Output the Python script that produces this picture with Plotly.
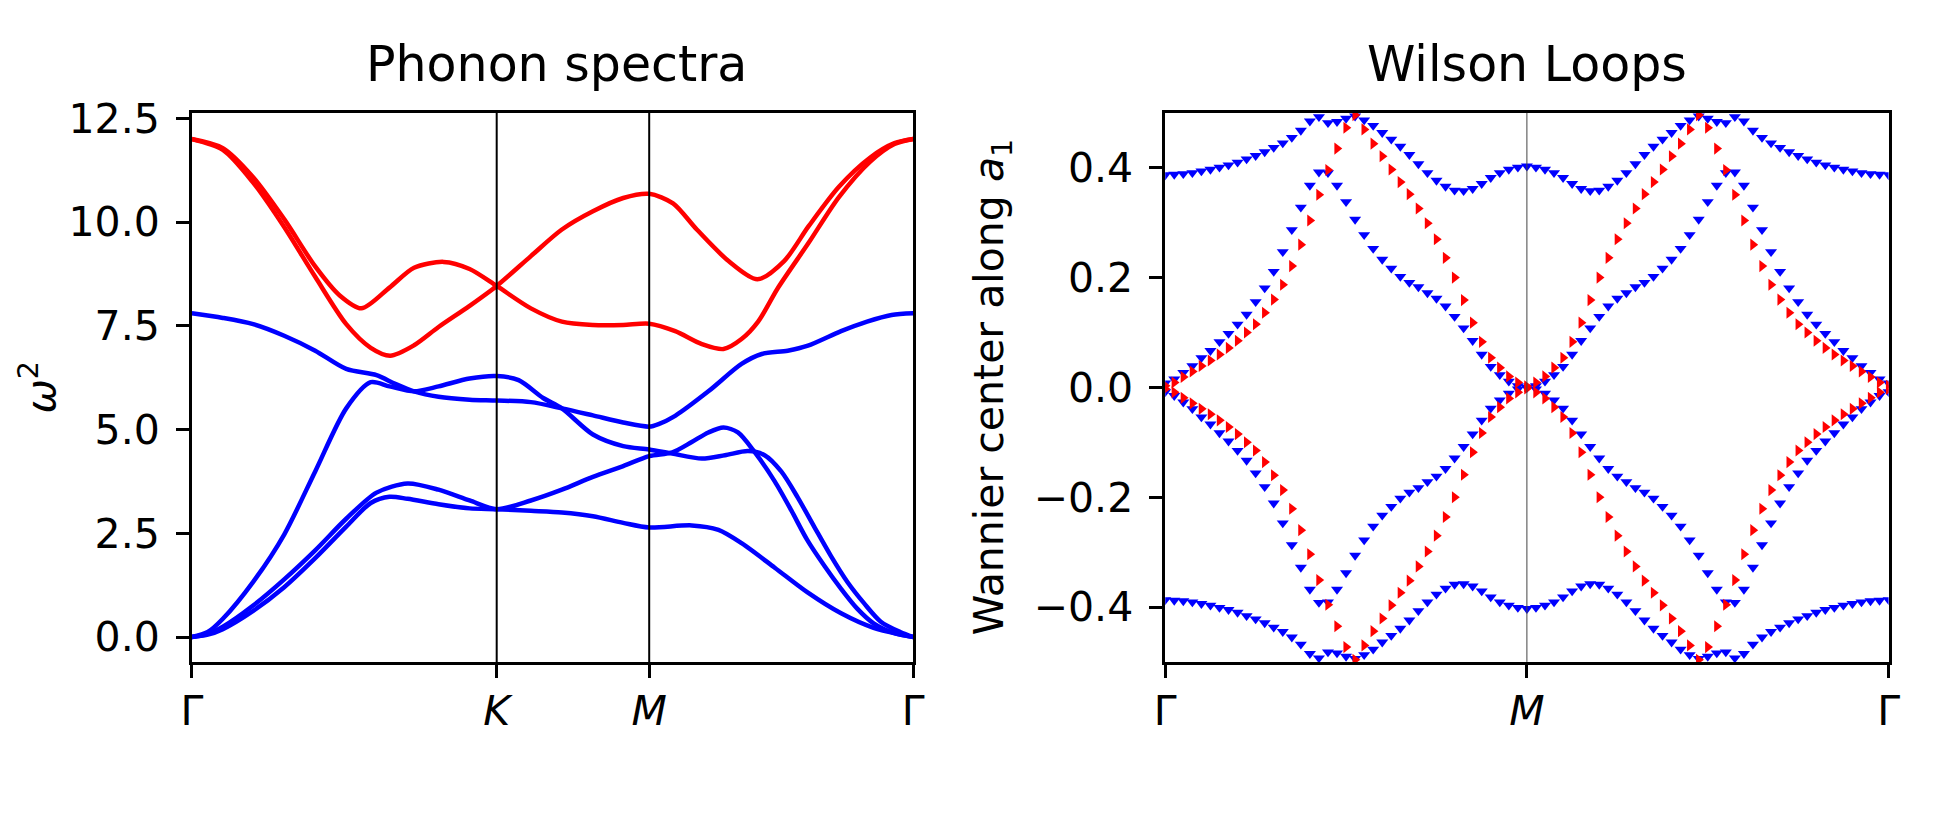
import plotly.graph_objects as go

#%% data: phonon bands (k along G-K-M-G, fraction of path) and omega^2

kpath_ticks = [0.0, 0.4226, 0.634, 1.0]
kpath_labels = ["Γ", "<i>K</i>", "<i>M</i>", "Γ"]

band1_k = [0, 0.021, 0.043, 0.085, 0.128, 0.171, 0.214, 0.248, 0.274, 0.299, 0.342, 0.385, 0.4226,
           0.47, 0.513, 0.556, 0.598, 0.634, 0.693, 0.73, 0.762, 0.808, 0.853, 0.90, 0.945, 0.982, 1.0]
band1_w = [0, 0.05, 0.19, 0.63, 1.20, 1.90, 2.66, 3.23, 3.38, 3.33, 3.20, 3.10, 3.08,
           3.04, 3.00, 2.91, 2.75, 2.64, 2.69, 2.58, 2.26, 1.67, 1.08, 0.57, 0.22, 0.06, 0]

band2_k = [0, 0.021, 0.043, 0.085, 0.128, 0.171, 0.214, 0.256, 0.299, 0.342, 0.385, 0.4226,
           0.47, 0.513, 0.556, 0.598, 0.634, 0.666, 0.693, 0.716, 0.737, 0.757, 0.78, 0.808,
           0.831, 0.853, 0.877, 0.90, 0.922, 0.945, 0.973, 1.0]
band2_w = [0, 0.07, 0.25, 0.76, 1.39, 2.09, 2.85, 3.48, 3.70, 3.55, 3.29, 3.08,
           3.29, 3.55, 3.86, 4.12, 4.36, 4.45, 4.70, 4.93, 5.05, 4.93, 4.46, 3.75,
           3.05, 2.34, 1.71, 1.16, 0.69, 0.33, 0.10, 0]

band3_k = [0, 0.022, 0.043, 0.085, 0.128, 0.171, 0.214, 0.248, 0.274, 0.308, 0.342, 0.385, 0.4226,
           0.453, 0.487, 0.513, 0.556, 0.598, 0.634, 0.666, 0.707, 0.739, 0.771, 0.794,
           0.817, 0.840, 0.863, 0.886, 0.909, 0.932, 0.955, 0.982, 1.0]
band3_w = [0, 0.12, 0.44, 1.33, 2.47, 3.99, 5.51, 6.14, 6.04, 5.92, 6.04, 6.23, 6.29,
           6.19, 5.76, 5.51, 4.88, 4.60, 4.52, 4.42, 4.30, 4.38, 4.48, 4.38,
           3.99, 3.36, 2.65, 1.95, 1.32, 0.81, 0.37, 0.12, 0]

band4_k = [0, 0.043, 0.085, 0.128, 0.171, 0.214, 0.256, 0.282, 0.308, 0.342, 0.385, 0.4226,
           0.47, 0.513, 0.556, 0.598, 0.634, 0.647, 0.670, 0.716, 0.762, 0.79, 0.826, 0.854,
           0.90, 0.936, 0.97, 1.0]
band4_w = [7.80, 7.69, 7.54, 7.26, 6.90, 6.46, 6.31, 6.10, 5.92, 5.79, 5.72, 5.70,
           5.66, 5.51, 5.34, 5.17, 5.07, 5.13, 5.33, 5.92, 6.58, 6.82, 6.90, 7.02,
           7.37, 7.60, 7.76, 7.80]

band5_k = [0, 0.043, 0.085, 0.128, 0.171, 0.205, 0.235, 0.274, 0.308, 0.349, 0.385, 0.4226,
           0.47, 0.513, 0.556, 0.598, 0.634, 0.67, 0.707, 0.737, 0.762, 0.785, 0.812,
           0.855, 0.897, 0.94, 0.974, 1.0]
band5_w = [12.0, 11.78, 11.08, 10.07, 8.93, 8.23, 7.92, 8.42, 8.90, 9.04, 8.87, 8.46,
           7.92, 7.60, 7.52, 7.52, 7.55, 7.37, 7.06, 6.94, 7.18, 7.60, 8.40,
           9.50, 10.60, 11.45, 11.88, 12.0]

band6_k = [0, 0.043, 0.085, 0.128, 0.171, 0.214, 0.248, 0.275, 0.308, 0.342, 0.385, 0.4226,
           0.47, 0.513, 0.556, 0.598, 0.634, 0.667, 0.70, 0.744, 0.784, 0.821, 0.855,
           0.897, 0.94, 0.974, 1.0]
band6_w = [12.0, 11.74, 10.95, 9.88, 8.68, 7.54, 6.97, 6.78, 7.03, 7.47, 7.98, 8.46,
           9.18, 9.82, 10.26, 10.58, 10.68, 10.45, 9.82, 9.06, 8.62, 9.06, 9.90,
           10.85, 11.55, 11.90, 12.0]

#%% data: Wilson loop Wannier centres, 81 k-points G-M-G

wl_k = list(range(81))
wl_ticks = [0, 40, 80]
wl_labels = ["Γ", "<i>M</i>", "Γ"]

wl_blue_1 = [0.387, 0.388, 0.389, 0.391, 0.394, 0.397, 0.401, 0.405, 0.410, 0.416,
             0.422, 0.429, 0.437, 0.445, 0.455, 0.468, 0.485, 0.493, 0.482, 0.484,
             0.490, 0.494, 0.487, 0.477, 0.464, 0.452, 0.439, 0.424, 0.407, 0.391,
             0.377, 0.366, 0.359, 0.358, 0.362, 0.371, 0.382, 0.391, 0.397, 0.401,
             0.403,
             0.401, 0.397, 0.391, 0.382, 0.371, 0.362, 0.358, 0.359, 0.366, 0.377,
             0.391, 0.407, 0.424, 0.439, 0.452, 0.464, 0.477, 0.487, 0.494, 0.490,
             0.484, 0.482, 0.493, 0.485, 0.468, 0.455, 0.445, 0.437, 0.429, 0.422,
             0.416, 0.410, 0.405, 0.401, 0.397, 0.394, 0.391, 0.389, 0.388, 0.387]
wl_blue_2 = [0.008, 0.015, 0.027, 0.039, 0.054, 0.067, 0.083, 0.098, 0.115, 0.133,
             0.156, 0.181, 0.211, 0.247, 0.287, 0.328, 0.368, 0.392, 0.391, 0.368,
             0.338, 0.306, 0.278, 0.253, 0.233, 0.217, 0.202, 0.191, 0.183, 0.172,
             0.162, 0.148, 0.129, 0.108, 0.085, 0.060, 0.038, 0.023, 0.011, 0.003,
             0.000,
             0.003, 0.011, 0.023, 0.038, 0.060, 0.085, 0.108, 0.129, 0.148, 0.162,
             0.172, 0.183, 0.191, 0.202, 0.217, 0.233, 0.253, 0.278, 0.306, 0.338,
             0.368, 0.391, 0.392, 0.368, 0.328, 0.287, 0.247, 0.211, 0.181, 0.156,
             0.133, 0.115, 0.098, 0.083, 0.067, 0.054, 0.039, 0.027, 0.015, 0.008]
wl_blue_3 = [-0.008, -0.015, -0.027, -0.039, -0.054, -0.067, -0.083, -0.098, -0.115, -0.133,
             -0.156, -0.181, -0.211, -0.247, -0.287, -0.328, -0.368, -0.392, -0.391, -0.368,
             -0.338, -0.306, -0.278, -0.253, -0.233, -0.217, -0.202, -0.191, -0.183, -0.172,
             -0.162, -0.148, -0.129, -0.108, -0.085, -0.060, -0.038, -0.023, -0.011, -0.003,
             -0.000,
             -0.003, -0.011, -0.023, -0.038, -0.060, -0.085, -0.108, -0.129, -0.148, -0.162,
             -0.172, -0.183, -0.191, -0.202, -0.217, -0.233, -0.253, -0.278, -0.306, -0.338,
             -0.368, -0.391, -0.392, -0.368, -0.328, -0.287, -0.247, -0.211, -0.181, -0.156,
             -0.133, -0.115, -0.098, -0.083, -0.067, -0.054, -0.039, -0.027, -0.015, -0.008]
wl_blue_4 = [-0.387, -0.388, -0.389, -0.391, -0.394, -0.397, -0.401, -0.405, -0.410, -0.416,
             -0.422, -0.429, -0.437, -0.445, -0.455, -0.468, -0.485, -0.493, -0.482, -0.484,
             -0.490, -0.494, -0.487, -0.477, -0.464, -0.452, -0.439, -0.424, -0.407, -0.391,
             -0.377, -0.366, -0.359, -0.358, -0.362, -0.371, -0.382, -0.391, -0.397, -0.401,
             -0.403,
             -0.401, -0.397, -0.391, -0.382, -0.371, -0.362, -0.358, -0.359, -0.366, -0.377,
             -0.391, -0.407, -0.424, -0.439, -0.452, -0.464, -0.477, -0.487, -0.494, -0.490,
             -0.484, -0.482, -0.493, -0.485, -0.468, -0.455, -0.445, -0.437, -0.429, -0.422,
             -0.416, -0.410, -0.405, -0.401, -0.397, -0.394, -0.391, -0.389, -0.388, -0.387]
wl_red_1 = [0.003, 0.009, 0.019, 0.029, 0.039, 0.049, 0.060, 0.072, 0.085, 0.100,
            0.115, 0.136, 0.160, 0.187, 0.221, 0.260, 0.304, 0.351, 0.396, 0.435,
            0.473, 0.496, 0.470, 0.444, 0.421, 0.397, 0.374, 0.352, 0.326, 0.299,
            0.270, 0.236, 0.200, 0.159, 0.118, 0.083, 0.054, 0.036, 0.020, 0.009,
            0.002,
            0.009, 0.020, 0.036, 0.054, 0.083, 0.118, 0.159, 0.200, 0.236, 0.270,
            0.299, 0.326, 0.352, 0.374, 0.397, 0.421, 0.444, 0.470, 0.496, 0.473,
            0.435, 0.396, 0.351, 0.304, 0.260, 0.221, 0.187, 0.160, 0.136, 0.115,
            0.100, 0.085, 0.072, 0.060, 0.049, 0.039, 0.029, 0.019, 0.009, 0.003]
wl_red_2 = [-0.003, -0.009, -0.019, -0.029, -0.039, -0.049, -0.060, -0.072, -0.085, -0.100,
            -0.115, -0.136, -0.160, -0.187, -0.221, -0.260, -0.304, -0.351, -0.396, -0.435,
            -0.473, -0.496, -0.470, -0.444, -0.421, -0.397, -0.374, -0.352, -0.326, -0.299,
            -0.270, -0.236, -0.200, -0.159, -0.118, -0.083, -0.054, -0.036, -0.020, -0.009,
            -0.002,
            -0.009, -0.020, -0.036, -0.054, -0.083, -0.118, -0.159, -0.200, -0.236, -0.270,
            -0.299, -0.326, -0.352, -0.374, -0.397, -0.421, -0.444, -0.470, -0.496, -0.473,
            -0.435, -0.396, -0.351, -0.304, -0.260, -0.221, -0.187, -0.160, -0.136, -0.115,
            -0.100, -0.085, -0.072, -0.060, -0.049, -0.039, -0.029, -0.019, -0.009, -0.003]

#%% figure

W, H = 1950, 840
FONT = "DejaVu Sans"

def px_x(p):
    return p / W

def px_y(p):
    return 1 - p / H

fig = go.Figure()

phonon = [(band1_k, band1_w, "blue"), (band2_k, band2_w, "blue"),
          (band3_k, band3_w, "blue"), (band4_k, band4_w, "blue"),
          (band5_k, band5_w, "red"), (band6_k, band6_w, "red")]
for k, w, col in phonon:
    fig.add_trace(go.Scatter(x=k, y=w, mode="lines", xaxis="x", yaxis="y",
                             line=dict(color=col, width=4.5, shape="spline", smoothing=0.8),
                             showlegend=False, hoverinfo="skip"))

for vals, col, sym in [(wl_blue_1, "blue", "triangle-down"), (wl_blue_2, "blue", "triangle-down"),
                       (wl_blue_3, "blue", "triangle-down"), (wl_blue_4, "blue", "triangle-down"),
                       (wl_red_1, "red", "triangle-right"), (wl_red_2, "red", "triangle-right")]:
    fig.add_trace(go.Scatter(x=wl_k, y=vals, mode="markers", xaxis="x2", yaxis="y2",
                             marker=dict(color=col, symbol=sym, size=10.5, line_width=0),
                             cliponaxis=True, showlegend=False, hoverinfo="skip"))

# high-symmetry lines
for kx in kpath_ticks[1:3]:
    fig.add_shape(type="line", xref="x", yref="y domain", x0=kx, x1=kx, y0=0, y1=1,
                  line=dict(color="black", width=2))
fig.add_shape(type="line", xref="x2", yref="y2 domain", x0=wl_ticks[1], x1=wl_ticks[1], y0=0, y1=1,
              line=dict(color="#444444", width=1))

axis_common = dict(showline=True, mirror=True, linecolor="black", linewidth=2.6,
                   ticks="outside", ticklen=13, tickwidth=2.6, tickcolor="black",
                   showgrid=False, zeroline=False,
                   tickfont=dict(family=FONT, size=41, color="black"))

ydom = [px_y(658), px_y(97)]
fig.update_layout(
    width=W, height=H, autosize=False,
    margin=dict(l=0, r=0, t=0, b=0),
    paper_bgcolor="white", plot_bgcolor="white",
    xaxis=dict(domain=[px_x(183), px_x(913)], range=[0, 1],
               tickvals=kpath_ticks, ticktext=kpath_labels, ticklabelstandoff=-2, **axis_common),
    yaxis=dict(domain=ydom, range=[-0.6, 12.63], tickvals=[0, 2.5, 5, 7.5, 10, 12.5],
               tickformat=".1f", ticklabelstandoff=8, **axis_common),
    xaxis2=dict(domain=[px_x(1168), px_x(1900)], range=[0, 80], anchor="y2",
                tickvals=wl_ticks, ticktext=wl_labels, ticklabelstandoff=-2, **axis_common),
    yaxis2=dict(domain=ydom, range=[-0.5, 0.5], anchor="x2",
                tickvals=[-0.4, -0.2, 0, 0.2, 0.4], tickformat=".1f",
                ticklabelstandoff=8, **axis_common),
)

ann_font = dict(family=FONT, size=41, color="black")
fig.add_annotation(text="Phonon spectra", xref="paper", yref="paper",
                   x=px_x(552), y=px_y(48), xanchor="center", yanchor="middle",
                   showarrow=False, font=dict(family=FONT, size=49, color="black"))
fig.add_annotation(text="Wilson Loops", xref="paper", yref="paper",
                   x=px_x(1534), y=px_y(48), xanchor="center", yanchor="middle",
                   showarrow=False, font=dict(family=FONT, size=49, color="black"))
fig.add_annotation(text="<i>ω</i><sup>2</sup>", xref="paper", yref="paper",
                   x=px_x(27), y=px_y(377), xanchor="center", yanchor="middle",
                   textangle=-90, showarrow=False, font=ann_font)
fig.add_annotation(text="Wannier center along <i>a</i><sub>1</sub>", xref="paper", yref="paper",
                   x=px_x(993), y=px_y(377), xanchor="center", yanchor="middle",
                   textangle=-90, showarrow=False, font=ann_font)

# page body has a default margin; drop it so the 1950x840 figure fills the window
fig.write_html("out.html", config={"displayModeBar": False},
               post_script="document.body.style.margin='0';")
